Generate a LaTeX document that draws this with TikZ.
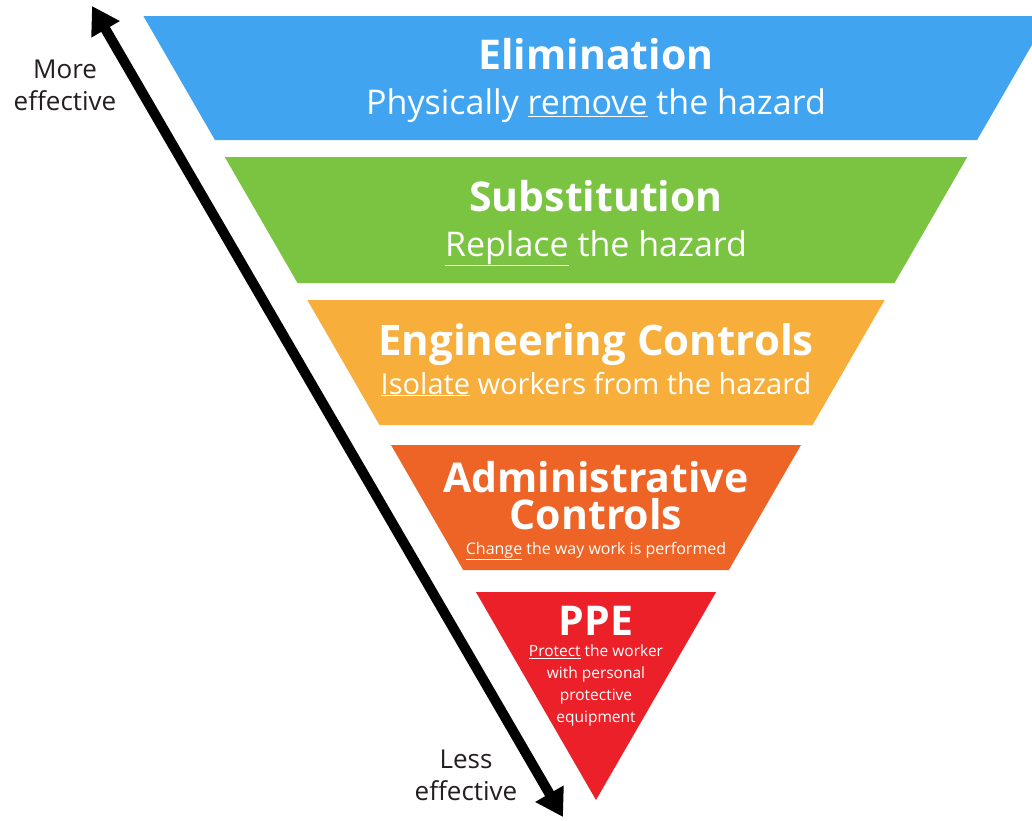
\documentclass[tikz,border=0pt]{standalone}
\usepackage{fontspec}
\setmainfont{Open Sans}
\usetikzlibrary{arrows.meta}
\definecolor{cBlue}{RGB}{64,164,240}
\definecolor{cGreen}{RGB}{122,196,66}
\definecolor{cAmber}{RGB}{248,174,58}
\definecolor{cOrange}{RGB}{238,99,38}
\definecolor{cRed}{RGB}{236,32,40}
\definecolor{cText}{RGB}{35,31,32}
\newcommand{\band}[3]{% color, ytop, ybottom
  \fill[#1] ({596-(800-#2)*0.57735},#2) -- ({596+(800-#2)*0.57735},#2)
    -- ({596+(800-#3)*0.57735},#3) -- ({596-(800-#3)*0.57735},#3) -- cycle;}
\tikzset{
  ttl/.style={text=white, font=\bfseries\fontsize{41}{44}\selectfont, anchor=base, inner sep=0pt},
  sub/.style={text=white, anchor=base, inner sep=0pt},
  side/.style={text=cText, font=\fontsize{26}{32}\selectfont, anchor=base, inner sep=0pt, align=center},
  bigarrow/.style={line width=10pt, {Triangle[length=27pt,width=31pt]}-{Triangle[length=27pt,width=31pt]}}
}
\begin{document}
\begin{tikzpicture}[x=1pt,y=-1pt]
\useasboundingbox (0,0) rectangle (1032,820);
\clip (0,0) rectangle (1032,820);
\fill[white] (0,0) rectangle (1032,820);
\band{cBlue}{16}{140}
\band{cGreen}{157}{283}
\band{cAmber}{300}{425}
\band{cOrange}{445}{570}
\fill[cRed] ({596-208*0.57735},592) -- ({596+208*0.57735},592) -- (596,800) -- cycle;
% texts
\node[ttl] (elim) at (596,69) {Elimination};
\node[sub, font=\fontsize{34}{38}\selectfont] (elimsub) at (596,114) {Physically \underline{remove} the hazard};
\node[ttl] (subs) at (596,211) {Substitution};
\node[sub, font=\fontsize{34}{38}\selectfont] (subssub) at (596,256) {\underline{Replace} the hazard};
\node[ttl, font=\bfseries\fontsize{42}{46}\selectfont] (eng) at (596,355) {Engineering Controls};
\node[sub, font=\fontsize{29}{33}\selectfont] (engsub) at (596,394) {\underline{Isolate} workers from the hazard};
\node[ttl] (adm1) at (596,492) {Administrative};
\node[ttl] (adm2) at (596,529) {Controls};
\node[sub, font=\fontsize{16}{18}\selectfont] (admsub) at (596,554) {\underline{Change} the way work is performed};
\node[ttl] (ppe) at (596,635) {PPE};
\node[sub, font=\fontsize{15.5}{22}\selectfont, align=center, anchor=north] (ppesub) at (596,645) {\underline{Protect} the worker\\with personal\\protective\\equipment};
% side labels
\node[side, anchor=north] (more) at (65,60) {More\\effective};
\node[side, anchor=north] (less) at (466,750) {Less\\effective};
% arrow
\coordinate (atop) at (92,6);
\coordinate (abot) at (563,817);
\draw[bigarrow] (atop) -- (abot);
\end{tikzpicture}
\end{document}
